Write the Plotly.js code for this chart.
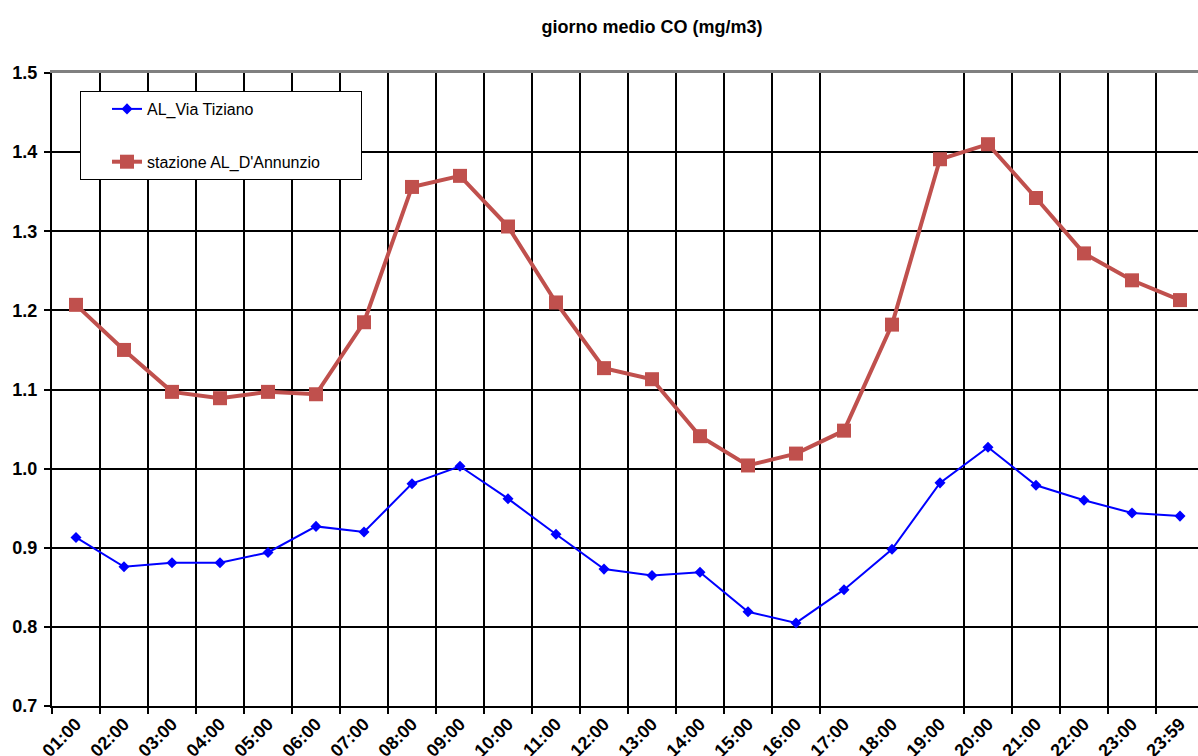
<!DOCTYPE html>
<html>
<head>
<meta charset="utf-8">
<script src="https://cdn.plot.ly/plotly-3.0.1.min.js"></script>
<style>
  html, body { margin: 0; padding: 0; background: #fff; }
  #chart { width: 1198px; height: 756px; }
</style>
</head>
<body>
<div id="chart"></div>
<script>
// Hourly averages of CO (mg/m3) at two stations
const categories = ['01:00','02:00','03:00','04:00','05:00','06:00','07:00','08:00',
  '09:00','10:00','11:00','12:00','13:00','14:00','15:00','16:00','17:00','18:00',
  '19:00','20:00','21:00','22:00','23:00','23:59'];

const viaTiziano = [0.913, 0.876, 0.881, 0.881, 0.894, 0.927, 0.920, 0.981,
  1.003, 0.962, 0.917, 0.873, 0.865, 0.869, 0.819, 0.805, 0.847, 0.898,
  0.982, 1.027, 0.979, 0.960, 0.944, 0.940];

const dAnnunzio = [1.207, 1.150, 1.097, 1.089, 1.097, 1.094, 1.185, 1.356,
  1.370, 1.306, 1.210, 1.127, 1.113, 1.041, 1.004, 1.019, 1.048, 1.182,
  1.391, 1.410, 1.342, 1.272, 1.238, 1.213];

const seriesNames = ['AL_Via Tiziano', 'stazione AL_D\'Annunzio'];
const yTicks = [0.7, 0.8, 0.9, 1.0, 1.1, 1.2, 1.3, 1.4, 1.5];

// categories whose left separator line is not drawn
const noSeparatorBefore = ['18:00', '19:00'];

const xIdx = categories.map((c, i) => i);
const separators = categories
  .map((c, i) => ({ c: c, v: i - 0.5 }))
  .filter(d => noSeparatorBefore.indexOf(d.c) < 0)
  .map(d => d.v);

const xRange = [-0.5, categories.length - 0.625];
const FONT = 'Liberation Sans, Arial, sans-serif';
// non-breaking spaces widen the legend box on the right
const legendPad = '\u00a0'.repeat(8);

const traces = [
  {
    x: xIdx, y: viaTiziano, name: seriesNames[0], legendgroup: 'a',
    type: 'scatter', mode: 'lines+markers',
    line: { color: '#0000FF', width: 2 },
    marker: { symbol: 'diamond', size: 8.5, color: '#0000FF' },
    xaxis: 'x', yaxis: 'y'
  },
  {
    x: xIdx, y: dAnnunzio, name: seriesNames[1] + legendPad, legendgroup: 'b',
    type: 'scatter', mode: 'lines+markers',
    line: { color: '#C0504D', width: 4 },
    marker: { symbol: 'square', size: 14, color: '#C0504D' },
    xaxis: 'x', yaxis: 'y'
  },
  // carriers for the label axis and the top border axis
  { x: [], y: [], xaxis: 'x2', yaxis: 'y', showlegend: false, hoverinfo: 'skip', type: 'scatter' },
  { x: [], y: [], xaxis: 'x3', yaxis: 'y', showlegend: false, hoverinfo: 'skip', type: 'scatter' }
];

const tickFont = { family: FONT, size: 18, color: '#000', weight: 'bold' };

const layout = {
  width: 1198, height: 756,
  margin: { l: 52, r: 0, t: 73, b: 50, pad: 0 },
  paper_bgcolor: '#fff', plot_bgcolor: '#fff',
  font: { family: FONT, color: '#000' },
  title: {
    text: 'giorno medio CO (mg/m3)',
    font: { family: FONT, size: 18, color: '#000', weight: 'bold' },
    xref: 'container', yref: 'container',
    x: 652 / 1198, y: 1 - 27 / 756, xanchor: 'center', yanchor: 'middle'
  },
  showlegend: true,
  legend: {
    x: 28 / 1146, y: 1 - 18 / 633, xanchor: 'left', yanchor: 'top',
    bgcolor: '#fff', bordercolor: '#000', borderwidth: 1,
    font: { family: FONT, size: 16, color: '#000' },
    traceorder: 'grouped', tracegroupgap: 29, indentation: 26,
    itemclick: false, itemdoubleclick: false
  },
  xaxis: {
    range: xRange, tickmode: 'array', tickvals: separators,
    showticklabels: false, ticks: 'outside', ticklen: 6, tickwidth: 2, tickcolor: '#000',
    showgrid: true, gridcolor: '#000', gridwidth: 2,
    showline: true, linecolor: '#000', linewidth: 2, zeroline: false, fixedrange: true
  },
  xaxis2: {
    overlaying: 'x', anchor: 'y', side: 'bottom', range: xRange,
    tickmode: 'array', tickvals: xIdx, ticktext: categories, tickangle: -45,
    ticks: '', showgrid: false, showline: false, zeroline: false,
    tickfont: tickFont, ticklabelstandoff: 3, fixedrange: true
  },
  xaxis3: {
    overlaying: 'x', anchor: 'y', side: 'top', range: xRange,
    showticklabels: false, ticks: '', showgrid: false, zeroline: false,
    showline: true, linecolor: '#808080', linewidth: 3, fixedrange: true
  },
  yaxis: {
    range: [0.7, 1.5], tickmode: 'array', tickvals: yTicks, tickformat: '.1f',
    ticks: 'outside', ticklen: 6, tickwidth: 2, tickcolor: '#000',
    showgrid: true, gridcolor: '#000', gridwidth: 2,
    showline: true, linecolor: '#000', linewidth: 2, zeroline: false,
    tickfont: tickFont, ticklabelstandoff: 3, fixedrange: true
  }
};

Plotly.newPlot('chart', traces, layout, { displayModeBar: false, staticPlot: true });
</script>
</body>
</html>
